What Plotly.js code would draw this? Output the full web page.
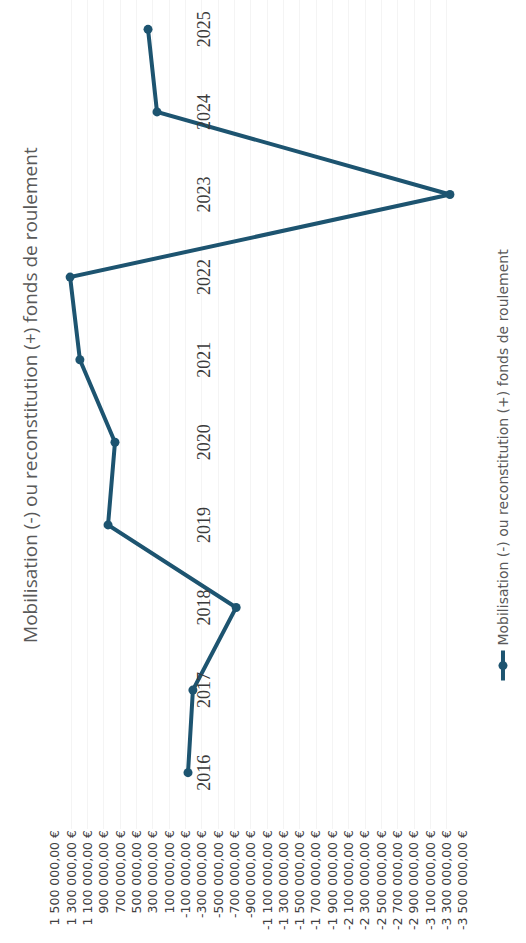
<!DOCTYPE html>
<html>
<head>
<meta charset="utf-8">
<script src="https://cdn.plot.ly/plotly-3.0.1.min.js"></script>
<style>
  html, body { margin: 0; padding: 0; background: #ffffff; }
  #wrap { position: relative; width: 526px; height: 943px; overflow: hidden; background: #ffffff; }
  #chart { position: absolute; left: 0; top: 0; width: 943px; height: 526px;
           transform-origin: 0 0; transform: translateY(943px) rotate(-90deg); }
</style>
</head>
<body>
<div id="wrap"><div id="chart"></div></div>
<script>
// Data
const years = ["2016", "2017", "2018", "2019", "2020", "2021", "2022", "2023", "2024", "2025"];
const values = [-130000, -190000, -720000, 850000, 765000, 1195000, 1315000, -3340000, 250000, 360000];
const seriesName = "Mobilisation (-) ou reconstitution (+) fonds de roulement";
const chartTitle = "Mobilisation (-) ou reconstitution (+) fonds de roulement";
const tickVals = [1500000, 1300000, 1100000, 900000, 700000, 500000, 300000, 100000,
  -100000, -300000, -500000, -700000, -900000, -1100000, -1300000, -1500000, -1700000,
  -1900000, -2100000, -2300000, -2500000, -2700000, -2900000, -3100000, -3300000, -3500000];
const tickLabels = ["1 500 000,00 €", "1 300 000,00 €", "1 100 000,00 €", "900 000,00 €",
  "700 000,00 €", "500 000,00 €", "300 000,00 €", "100 000,00 €", "-100 000,00 €",
  "-300 000,00 €", "-500 000,00 €", "-700 000,00 €", "-900 000,00 €", "-1 100 000,00 €",
  "-1 300 000,00 €", "-1 500 000,00 €", "-1 700 000,00 €", "-1 900 000,00 €",
  "-2 100 000,00 €", "-2 300 000,00 €", "-2 500 000,00 €", "-2 700 000,00 €",
  "-2 900 000,00 €", "-3 100 000,00 €", "-3 300 000,00 €", "-3 500 000,00 €"];

const lineColor = "#1d5470";

const trace = {
  type: "scatter",
  mode: "lines+markers",
  x: years,
  y: values,
  name: seriesName,
  line: { color: lineColor, width: 4 },
  marker: { color: lineColor, size: 9 },
  showlegend: true
};

const layout = {
  width: 943,
  height: 526,
  paper_bgcolor: "#ffffff",
  plot_bgcolor: "#ffffff",
  margin: { l: 114, r: 0, t: 55, b: 63 },
  title: {
    text: chartTitle,
    font: { family: "Open Sans, sans-serif", size: 19, color: "#595959" },
    xref: "container", x: 0.581, xanchor: "center",
    yref: "container", y: 0.943, yanchor: "middle"
  },
  xaxis: {
    type: "category",
    categoryorder: "array",
    categoryarray: years,
    range: [-0.682, 9.355],
    anchor: "free",
    position: 0.70,
    showline: false,
    showgrid: false,
    zeroline: false,
    ticks: "",
    ticklabelstandoff: 14,
    tickfont: { family: "Liberation Serif, DejaVu Serif, serif", size: 18, color: "#3a3a3a" }
  },
  yaxis: {
    range: [-3500000, 1500000],
    tickmode: "array",
    tickvals: tickVals,
    ticktext: tickLabels,
    showgrid: true,
    gridcolor: "#f4f4f4",
    zeroline: false,
    showline: false,
    ticks: "",
    tickfont: { family: "DejaVu Sans, sans-serif", size: 12.5, color: "#404040" }
  },
  showlegend: true,
  legend: {
    orientation: "h",
    xref: "container", x: 0.273, xanchor: "left",
    yref: "container", y: 0.043, yanchor: "middle",
    font: { family: "DejaVu Sans, sans-serif", size: 14, color: "#595959" },
    itemwidth: 30
  }
};

Plotly.newPlot("chart", [trace], layout, { displayModeBar: false, staticPlot: true });
</script>
</body>
</html>
